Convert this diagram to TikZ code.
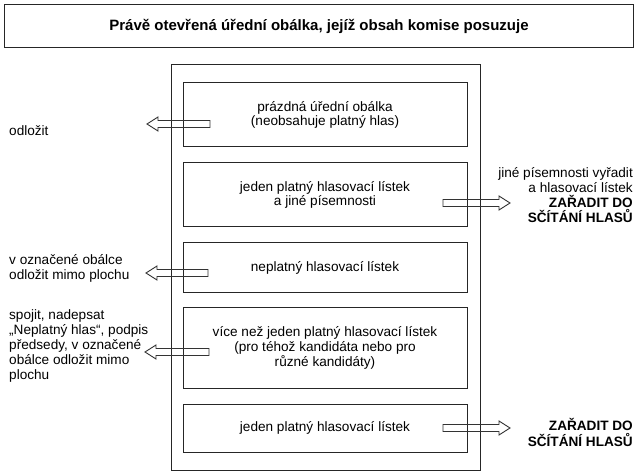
\documentclass[tikz,border=0pt]{standalone}
\usepackage{fontspec}
\setmainfont{Liberation Sans}
\usetikzlibrary{calc}
\tikzset{
  boxline/.style={draw=black!85, line width=1bp},
  innerbox/.style={boxline, minimum width=284bp, inner sep=0pt, align=center,
    font=\fontsize{13.6bp}{14.8bp}\selectfont},
  sidetext/.style={inner sep=0pt, font=\fontsize{13.6bp}{15.2bp}\selectfont},
  arrowline/.style={draw=black!80, line width=0.9bp, line join=miter},
}
\newcommand\hollowarrow[2]{%
  \path ($(#2)!11bp!(#1)$) coordinate (hb);
  \draw[arrowline] ($(#1)!3.5bp!90:(#2)$) -- ($(hb)!3.5bp!90:(#2)$)
    -- ($(hb)!7bp!90:(#2)$) -- (#2) -- ($(hb)!7bp!-90:(#2)$)
    -- ($(hb)!3.5bp!-90:(#2)$) -- ($(#1)!3.5bp!-90:(#2)$) -- cycle;
}
\begin{document}
\begin{tikzpicture}[x=1bp,y=-1bp]
\useasboundingbox (0,0) rectangle (636,473);
% title
\node[boxline, minimum width=628bp, minimum height=43bp, inner sep=0pt,
  font=\fontsize{15bp}{17bp}\selectfont\bfseries] (title) at (319,26.5)
  {Právě otevřená úřední obálka, jejíž obsah komise posuzuje};
% outer frame
\node[boxline, minimum width=309bp, minimum height=405bp] (frame) at (325.5,267.5) {};
% inner boxes
\node[innerbox, minimum height=64bp] (b1) at (325,115) {prázdná úřední obálka\\(neobsahuje platný hlas)};
\node[innerbox, minimum height=64bp] (b2) at (325,195) {jeden platný hlasovací lístek\\a jiné písemnosti};
\node[innerbox, minimum height=49bp] (b3) at (325,267.5) {neplatný hlasovací lístek};
\node[innerbox, minimum height=80bp] (b4) at (325,348) {více než jeden platný hlasovací lístek\\(pro téhož kandidáta nebo pro\\různé kandidáty)};
\node[innerbox, minimum height=48bp] (b5) at (325,428) {jeden platný hlasovací lístek};
% side texts
\node[sidetext, anchor=west, align=left] (t1) at (9,131) {odložit};
\node[sidetext, anchor=west, align=left] (t3) at (9,268.5) {v označené obálce\\odložit mimo plochu};
\node[sidetext, anchor=west, align=left] (t4) at (9,346) {spojit, nadepsat\\„Neplatný hlas“, podpis\\předsedy, v označené\\obálce odložit mimo\\plochu};
\node[sidetext, anchor=east, align=right] (t2) at (633,195) {jiné písemnosti vyřadit\\a hlasovací lístek\\\textbf{ZAŘADIT DO}\\\textbf{SČÍTÁNÍ HLASŮ}};
\node[sidetext, anchor=east, align=right, font=\fontsize{13.6bp}{15.2bp}\selectfont\bfseries] (t5) at (633,432.5) {ZAŘADIT DO\\SČÍTÁNÍ HLASŮ};
% arrow ends
\coordinate (a1s) at (210,124); \coordinate (a1e) at (147,124);
\coordinate (a2s) at (443,203); \coordinate (a2e) at (510,203);
\coordinate (a3s) at (208,273); \coordinate (a3e) at (146,273);
\coordinate (a4s) at (209,352); \coordinate (a4e) at (145,352);
\coordinate (a5s) at (443,428); \coordinate (a5e) at (510,428);
\hollowarrow{a1s}{a1e}
\hollowarrow{a2s}{a2e}
\hollowarrow{a3s}{a3e}
\hollowarrow{a4s}{a4e}
\hollowarrow{a5s}{a5e}
\end{tikzpicture}
\end{document}
